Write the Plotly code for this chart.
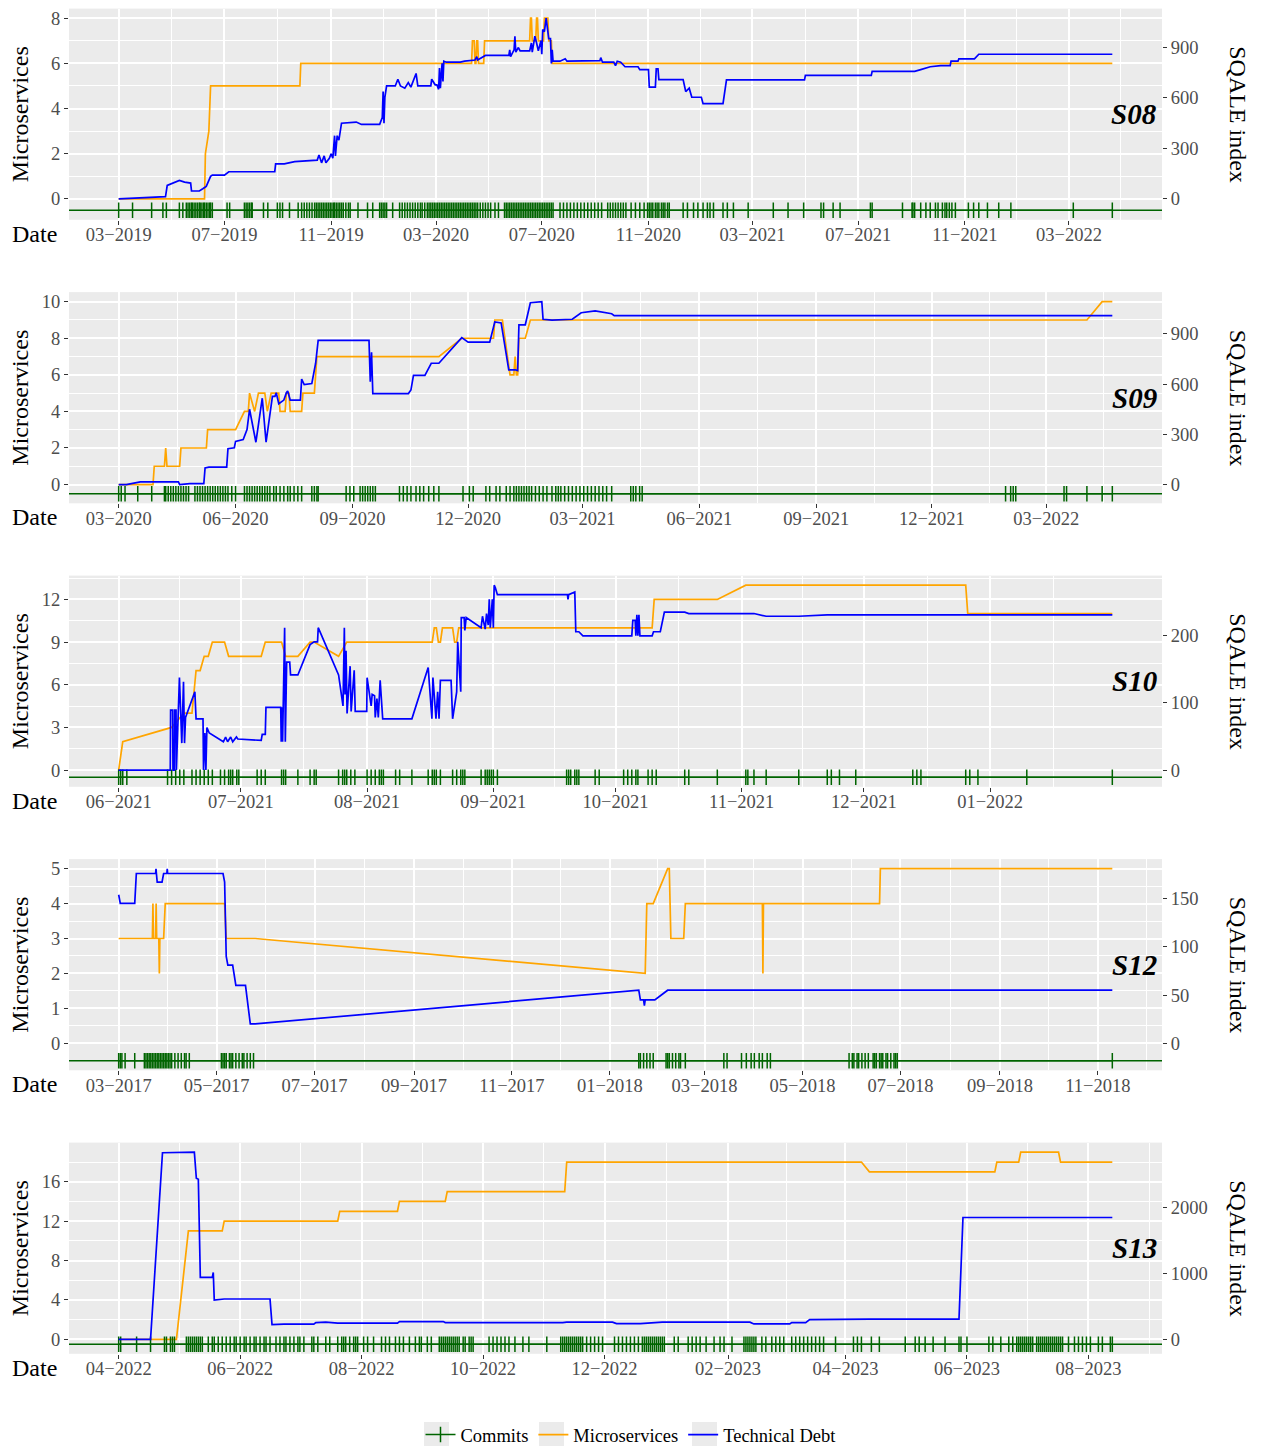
import pandas as pd
import plotly.graph_objects as go

# ---------------------------------------------------------------- data
# (date, number of microservices)
S08_MS = [("2019-03-01", 0), ("2019-06-08", 0), ("2019-06-09", 2), ("2019-06-13", 3), ("2019-06-14", 4),
          ("2019-06-15", 5), ("2019-09-26", 5), ("2019-09-27", 6), ("2020-04-11", 6), ("2020-04-12", 7),
          ("2020-04-14", 7), ("2020-04-15", 6), ("2020-04-16", 6), ("2020-04-17", 7), ("2020-04-18", 7),
          ("2020-04-19", 6), ("2020-04-25", 6), ("2020-04-26", 7), ("2020-06-17", 7), ("2020-06-18", 8),
          ("2020-06-19", 8), ("2020-06-20", 7), ("2020-06-24", 7), ("2020-06-25", 8), ("2020-06-26", 8),
          ("2020-06-27", 7), ("2020-07-03", 7), ("2020-07-04", 8), ("2020-07-08", 8), ("2020-07-09", 7),
          ("2020-07-12", 7), ("2020-07-13", 6), ("2022-04-20", 6)]
# (date, SQALE index)
S08_TD = [("2019-03-01", 0), ("2019-04-11", 9), ("2019-04-20", 13), ("2019-04-24", 13), ("2019-04-26", 80),
          ("2019-05-10", 110), ("2019-05-16", 100), ("2019-05-23", 94), ("2019-05-24", 47), ("2019-06-02", 47),
          ("2019-06-06", 60), ("2019-06-10", 74), ("2019-06-15", 134), ("2019-06-17", 141), ("2019-07-01", 141),
          ("2019-07-06", 161), ("2019-08-28", 161), ("2019-08-29", 208), ("2019-09-08", 208), ("2019-09-20", 221),
          ("2019-10-16", 230), ("2019-10-18", 261), ("2019-10-21", 214), ("2019-10-24", 255), ("2019-10-26", 214),
          ("2019-10-30", 241), ("2019-11-01", 268), ("2019-11-03", 241), ("2019-11-05", 375), ("2019-11-06", 255),
          ("2019-11-08", 375), ("2019-11-10", 348), ("2019-11-13", 449), ("2019-11-30", 456), ("2019-12-06", 442),
          ("2019-12-27", 442), ("2019-12-30", 482), ("2019-12-31", 637), ("2020-01-01", 449), ("2020-01-02", 603),
          ("2020-01-04", 670), ("2020-01-14", 670), ("2020-01-17", 710), ("2020-01-20", 670), ("2020-01-25", 657),
          ("2020-01-29", 690), ("2020-02-01", 663), ("2020-02-07", 744), ("2020-02-09", 670), ("2020-02-24", 670),
          ("2020-02-25", 710), ("2020-02-29", 677), ("2020-03-02", 677), ("2020-03-04", 650), ("2020-03-05", 777),
          ("2020-03-06", 657), ("2020-03-08", 804), ("2020-03-09", 697), ("2020-03-10", 817), ("2020-03-13", 811),
          ("2020-03-29", 811), ("2020-04-03", 817), ("2020-04-15", 824), ("2020-04-17", 844), ("2020-04-18", 824),
          ("2020-04-27", 851), ("2020-05-24", 851), ("2020-05-25", 884), ("2020-05-26", 844), ("2020-05-30", 884),
          ("2020-05-31", 965), ("2020-06-01", 871), ("2020-06-04", 898), ("2020-06-06", 878), ("2020-06-17", 878),
          ("2020-06-19", 925), ("2020-06-20", 871), ("2020-06-23", 965), ("2020-06-25", 925), ("2020-06-27", 878),
          ("2020-06-30", 938), ("2020-07-01", 858), ("2020-07-02", 1005), ("2020-07-04", 992), ("2020-07-06", 1072),
          ("2020-07-08", 978), ("2020-07-09", 951), ("2020-07-11", 951), ("2020-07-12", 804), ("2020-07-13", 884),
          ("2020-07-14", 817), ("2020-07-22", 817), ("2020-07-28", 831), ("2020-07-30", 817), ("2020-09-06", 820),
          ("2020-09-07", 838), ("2020-09-09", 811), ("2020-09-22", 811), ("2020-09-24", 791), ("2020-09-26", 817),
          ("2020-09-30", 811), ("2020-10-05", 784), ("2020-10-20", 784), ("2020-10-22", 767), ("2020-11-01", 767),
          ("2020-11-02", 663), ("2020-11-09", 663), ("2020-11-10", 771), ("2020-11-12", 771), ("2020-11-13", 708),
          ("2020-12-11", 708), ("2020-12-14", 637), ("2020-12-18", 657), ("2020-12-21", 603), ("2021-01-01", 603),
          ("2021-01-03", 565), ("2021-01-26", 565), ("2021-01-30", 706), ("2021-04-30", 706), ("2021-05-01", 733),
          ("2021-07-16", 733), ("2021-07-17", 757), ("2021-09-04", 757), ("2021-09-11", 767), ("2021-09-22", 784),
          ("2021-10-04", 791), ("2021-10-15", 791), ("2021-10-16", 817), ("2021-10-24", 817), ("2021-10-25", 831),
          ("2021-11-12", 831), ("2021-11-17", 858), ("2022-04-20", 858)]
S08_COMMITS = [
    "2019-03-01", "2019-03-17", "2019-04-08", "2019-04-21", "2019-04-25", "2019-05-10", "2019-05-14",
    "2019-05-18", "2019-05-20", "2019-05-22", "2019-05-24", "2019-05-25", "2019-05-27", "2019-05-29",
    "2019-05-31", "2019-06-02", "2019-06-03", "2019-06-05", "2019-06-07", "2019-06-08", "2019-06-10",
    "2019-06-12", "2019-06-14", "2019-06-15", "2019-06-17", "2019-07-04", "2019-07-07", "2019-07-24",
    "2019-07-26", "2019-07-28", "2019-07-30", "2019-08-01", "2019-08-02", "2019-08-15", "2019-08-20",
    "2019-08-31", "2019-09-03", "2019-09-06", "2019-09-14", "2019-09-24", "2019-09-28", "2019-10-01",
    "2019-10-04", "2019-10-07", "2019-10-10", "2019-10-13", "2019-10-15", "2019-10-17", "2019-10-19",
    "2019-10-21", "2019-10-23", "2019-10-25", "2019-10-27", "2019-10-29", "2019-10-31", "2019-11-02",
    "2019-11-04", "2019-11-05", "2019-11-07", "2019-11-09", "2019-11-11", "2019-11-13", "2019-11-15",
    "2019-11-18", "2019-11-21", "2019-11-23", "2019-12-02", "2019-12-13", "2019-12-19", "2019-12-27",
    "2019-12-29", "2019-12-31", "2020-01-02", "2020-01-04", "2020-01-11", "2020-01-19", "2020-01-22",
    "2020-01-25", "2020-01-28", "2020-01-31", "2020-02-03", "2020-02-06", "2020-02-09", "2020-02-12",
    "2020-02-14", "2020-02-17", "2020-02-20", "2020-02-22", "2020-02-24", "2020-02-26", "2020-02-28",
    "2020-03-01", "2020-03-03", "2020-03-05", "2020-03-07", "2020-03-09", "2020-03-11", "2020-03-13",
    "2020-03-15", "2020-03-17", "2020-03-19", "2020-03-21", "2020-03-23", "2020-03-25", "2020-03-27",
    "2020-03-29", "2020-03-31", "2020-04-02", "2020-04-04", "2020-04-06", "2020-04-08", "2020-04-10",
    "2020-04-12", "2020-04-14", "2020-04-16", "2020-04-18", "2020-04-21", "2020-04-24", "2020-04-27",
    "2020-04-30", "2020-05-03", "2020-05-08", "2020-05-12", "2020-05-19", "2020-05-21", "2020-05-23",
    "2020-05-25", "2020-05-27", "2020-05-29", "2020-05-31", "2020-06-02", "2020-06-04", "2020-06-06",
    "2020-06-08", "2020-06-10", "2020-06-12", "2020-06-14", "2020-06-16", "2020-06-18", "2020-06-20",
    "2020-06-22", "2020-06-24", "2020-06-26", "2020-06-28", "2020-06-30", "2020-07-02", "2020-07-04",
    "2020-07-06", "2020-07-08", "2020-07-10", "2020-07-12", "2020-07-14", "2020-07-22", "2020-07-26",
    "2020-07-30", "2020-08-03", "2020-08-07", "2020-08-11", "2020-08-15", "2020-08-19", "2020-08-23",
    "2020-08-27", "2020-08-31", "2020-09-04", "2020-09-08", "2020-09-15", "2020-09-18", "2020-09-21",
    "2020-09-24", "2020-09-27", "2020-09-30", "2020-10-03", "2020-10-06", "2020-10-12", "2020-10-17",
    "2020-10-22", "2020-10-27", "2020-10-31", "2020-11-02", "2020-11-04", "2020-11-06", "2020-11-09",
    "2020-11-11", "2020-11-13", "2020-11-16", "2020-11-18", "2020-11-20", "2020-11-23", "2020-11-25",
    "2020-12-11", "2020-12-16", "2020-12-23", "2020-12-28", "2021-01-03", "2021-01-08", "2021-01-11",
    "2021-01-15", "2021-01-26", "2021-01-31", "2021-02-07", "2021-02-24", "2021-03-25", "2021-04-11",
    "2021-04-29", "2021-05-19", "2021-05-22", "2021-06-02", "2021-06-10", "2021-07-15", "2021-07-17",
    "2021-08-21", "2021-09-01", "2021-09-02", "2021-09-04", "2021-09-11", "2021-09-17", "2021-09-22",
    "2021-09-28", "2021-10-01", "2021-10-06", "2021-10-09", "2021-10-11", "2021-10-14", "2021-10-17",
    "2021-10-21", "2021-11-05", "2021-11-11", "2021-11-17", "2021-11-27", "2021-12-10", "2021-12-24",
    "2022-03-06", "2022-04-20"]

S09_MS = [("2020-03-01", 0), ("2020-03-28", 0), ("2020-03-29", 1), ("2020-04-06", 1), ("2020-04-07", 2),
          ("2020-04-08", 1), ("2020-04-18", 1), ("2020-04-19", 2), ("2020-05-09", 2), ("2020-05-10", 3),
          ("2020-06-01", 3), ("2020-06-08", 4), ("2020-06-11", 4), ("2020-06-12", 5), ("2020-06-16", 4),
          ("2020-06-19", 5), ("2020-06-24", 5), ("2020-06-26", 4), ("2020-06-29", 5), ("2020-07-05", 5),
          ("2020-07-06", 4), ("2020-07-10", 4), ("2020-07-11", 5), ("2020-07-13", 5), ("2020-07-14", 4),
          ("2020-07-23", 4), ("2020-07-24", 5), ("2020-08-02", 5), ("2020-08-03", 6), ("2020-08-04", 7),
          ("2020-11-08", 7), ("2020-11-26", 8), ("2020-12-21", 8), ("2020-12-22", 9), ("2020-12-28", 9),
          ("2021-01-03", 6), ("2021-01-06", 6), ("2021-01-07", 7), ("2021-01-08", 6), ("2021-01-09", 6),
          ("2021-01-10", 8), ("2021-01-15", 8), ("2021-01-19", 9), ("2022-04-02", 9), ("2022-04-14", 10),
          ("2022-04-22", 10)]
S09_TD = [("2020-03-01", 0), ("2020-03-07", 0), ("2020-03-18", 16), ("2020-04-17", 16), ("2020-04-18", 0),
          ("2020-04-26", 5), ("2020-05-07", 5), ("2020-05-08", 99), ("2020-05-11", 104), ("2020-05-25", 104),
          ("2020-05-26", 214), ("2020-05-31", 220), ("2020-06-01", 258), ("2020-06-07", 269), ("2020-06-10", 329),
          ("2020-06-12", 450), ("2020-06-17", 253), ("2020-06-21", 450), ("2020-06-22", 516), ("2020-06-25", 253),
          ("2020-06-30", 527), ("2020-07-02", 527), ("2020-07-03", 549), ("2020-07-05", 483), ("2020-07-09", 505),
          ("2020-07-11", 549), ("2020-07-12", 560), ("2020-07-14", 505), ("2020-07-22", 505), ("2020-07-23", 631),
          ("2020-07-25", 598), ("2020-07-31", 604), ("2020-08-02", 675), ("2020-08-03", 725), ("2020-08-05", 862),
          ("2020-09-14", 862), ("2020-09-15", 615), ("2020-09-16", 791), ("2020-09-17", 544), ("2020-10-15", 544),
          ("2020-10-17", 565), ("2020-10-19", 653), ("2020-10-28", 653), ("2020-11-02", 725), ("2020-11-08", 725),
          ("2020-11-26", 878), ("2020-12-01", 851), ("2020-12-18", 851), ("2020-12-22", 972), ("2020-12-27", 966),
          ("2021-01-02", 686), ("2021-01-07", 686), ("2021-01-09", 681), ("2021-01-10", 955), ("2021-01-15", 955),
          ("2021-01-19", 1087), ("2021-01-28", 1093), ("2021-01-29", 988), ("2021-02-05", 983), ("2021-02-21", 988),
          ("2021-02-28", 1027), ("2021-03-11", 1038), ("2021-03-24", 1021), ("2021-03-26", 1010), ("2022-04-22", 1010)]
S09_COMMITS = [
    "2020-03-01", "2020-03-03", "2020-03-06", "2020-03-16", "2020-03-27", "2020-04-06", "2020-04-07",
    "2020-04-09", "2020-04-11", "2020-04-13", "2020-04-15", "2020-04-17", "2020-04-19", "2020-04-21",
    "2020-04-23", "2020-04-25", "2020-04-30", "2020-05-02", "2020-05-04", "2020-05-06", "2020-05-08",
    "2020-05-10", "2020-05-12", "2020-05-14", "2020-05-16", "2020-05-18", "2020-05-20", "2020-05-22",
    "2020-05-24", "2020-05-26", "2020-05-29", "2020-06-01", "2020-06-08", "2020-06-10", "2020-06-12",
    "2020-06-14", "2020-06-16", "2020-06-18", "2020-06-20", "2020-06-22", "2020-06-24", "2020-06-26",
    "2020-06-28", "2020-07-01", "2020-07-03", "2020-07-06", "2020-07-09", "2020-07-12", "2020-07-14",
    "2020-07-17", "2020-07-20", "2020-07-23", "2020-07-31", "2020-08-02", "2020-08-04", "2020-08-05",
    "2020-08-27", "2020-08-30", "2020-09-02", "2020-09-07", "2020-09-09", "2020-09-11", "2020-09-13",
    "2020-09-15", "2020-09-17", "2020-09-19", "2020-10-08", "2020-10-11", "2020-10-14", "2020-10-17",
    "2020-10-21", "2020-10-24", "2020-10-27", "2020-10-31", "2020-11-04", "2020-11-08", "2020-11-27",
    "2020-12-02", "2020-12-05", "2020-12-15", "2020-12-18", "2020-12-23", "2020-12-26", "2020-12-31",
    "2021-01-03", "2021-01-06", "2021-01-08", "2021-01-10", "2021-01-12", "2021-01-14", "2021-01-16",
    "2021-01-18", "2021-01-20", "2021-01-23", "2021-01-26", "2021-01-29", "2021-02-01", "2021-02-05",
    "2021-02-08", "2021-02-10", "2021-02-12", "2021-02-15", "2021-02-18", "2021-02-21", "2021-02-24",
    "2021-02-27", "2021-03-02", "2021-03-05", "2021-03-08", "2021-03-11", "2021-03-14", "2021-03-17",
    "2021-03-20", "2021-03-24", "2021-04-08", "2021-04-10", "2021-04-12", "2021-04-15", "2021-04-17",
    "2022-01-28", "2022-02-01", "2022-02-03", "2022-02-05", "2022-03-15", "2022-03-17", "2022-04-02",
    "2022-04-14", "2022-04-22"]

S10_MS = [("2021-06-01", 0), ("2021-06-02", 2), ("2021-06-14", 3), ("2021-06-17", 4), ("2021-06-19", 4),
          ("2021-06-20", 7), ("2021-06-21", 7), ("2021-06-22", 8), ("2021-06-23", 8), ("2021-06-24", 9),
          ("2021-06-27", 9), ("2021-06-28", 8), ("2021-07-06", 8), ("2021-07-07", 9), ("2021-07-11", 9),
          ("2021-07-12", 8), ("2021-07-15", 8), ("2021-07-18", 9), ("2021-07-19", 9), ("2021-07-25", 8),
          ("2021-07-27", 9), ("2021-08-17", 9), ("2021-08-17 12:00", 10), ("2021-08-18", 10),
          ("2021-08-18 12:00", 9), ("2021-08-19", 9), ("2021-08-19 12:00", 10), ("2021-08-22", 10),
          ("2021-08-22 12:00", 9), ("2021-08-23", 9), ("2021-08-23 12:00", 10), ("2021-10-10", 10),
          ("2021-10-10 12:00", 12), ("2021-10-26", 12), ("2021-11-02", 13), ("2021-12-26", 13),
          ("2021-12-26 12:00", 11), ("2022-01-31", 11)]
S10_TD = [("2021-06-01", 0), ("2021-06-13 16:00", 0), ("2021-06-13 18:00", 89), ("2021-06-14 06:00", 89),
          ("2021-06-14 08:00", 0), ("2021-06-14 16:00", 0), ("2021-06-14 18:00", 89), ("2021-06-15 02:00", 89),
          ("2021-06-15 04:00", 0), ("2021-06-15 22:00", 137), ("2021-06-16 12:00", 40), ("2021-06-16 22:00", 131),
          ("2021-06-17 04:00", 40), ("2021-06-17 10:00", 78), ("2021-06-19 17:00", 116), ("2021-06-20 00:00", 76),
          ("2021-06-21 17:00", 76), ("2021-06-21 20:00", 0), ("2021-06-22 04:00", 55), ("2021-06-22 10:00", 0),
          ("2021-06-22 16:00", 63), ("2021-06-23 06:00", 55), ("2021-06-26 17:00", 42), ("2021-06-27 06:00", 49),
          ("2021-06-27 18:00", 42), ("2021-06-28 12:00", 49), ("2021-06-29 00:00", 42), ("2021-06-29 22:00", 49),
          ("2021-06-30 06:00", 46), ("2021-07-06", 44), ("2021-07-06 06:00", 53), ("2021-07-07", 53),
          ("2021-07-07 04:00", 93), ("2021-07-10 19:00", 93), ("2021-07-10 22:00", 42), ("2021-07-11 02:00", 93),
          ("2021-07-11 06:00", 42), ("2021-07-11 18:00", 211), ("2021-07-11 22:00", 42), ("2021-07-12 06:00", 160),
          ("2021-07-13", 160), ("2021-07-13 05:00", 141), ("2021-07-15", 141), ("2021-07-18", 186),
          ("2021-07-19", 190), ("2021-07-19 20:00", 190), ("2021-07-20", 211), ("2021-07-25", 141),
          ("2021-07-26 02:00", 95), ("2021-07-26 10:00", 211), ("2021-07-26 14:00", 112), ("2021-07-26 20:00", 177),
          ("2021-07-27 02:00", 84), ("2021-07-27 08:00", 112), ("2021-07-27 20:00", 154), ("2021-07-28 02:00", 87),
          ("2021-07-28 20:00", 148), ("2021-07-29 02:00", 87), ("2021-07-31 22:00", 87), ("2021-08-01", 137),
          ("2021-08-02", 95), ("2021-08-02 06:00", 112), ("2021-08-02 20:00", 110), ("2021-08-03", 78),
          ("2021-08-03 10:00", 106), ("2021-08-03 18:00", 78), ("2021-08-04 05:00", 133), ("2021-08-04 20:00", 76),
          ("2021-08-12", 76), ("2021-08-16", 152), ("2021-08-16 22:00", 76), ("2021-08-17 04:00", 137),
          ("2021-08-17 22:00", 76), ("2021-08-18 08:00", 116), ("2021-08-18 16:00", 76), ("2021-08-19", 133),
          ("2021-08-21 15:00", 133), ("2021-08-22", 76), ("2021-08-23", 116), ("2021-08-23 06:00", 190),
          ("2021-08-24", 116), ("2021-08-24 03:00", 226), ("2021-08-24 20:00", 226), ("2021-08-25", 207),
          ("2021-08-25 08:00", 226), ("2021-08-29", 211), ("2021-08-29 08:00", 228), ("2021-08-30", 209),
          ("2021-08-30 08:00", 232), ("2021-08-30 18:00", 215), ("2021-08-31", 253), ("2021-08-31 06:00", 211),
          ("2021-08-31 18:00", 253), ("2021-09-01", 211), ("2021-09-01 05:00", 274), ("2021-09-01 12:00", 270),
          ("2021-09-02", 260), ("2021-09-19 05:00", 260), ("2021-09-19 08:00", 253), ("2021-09-19 12:00", 260),
          ("2021-09-21", 264), ("2021-09-21 06:00", 205), ("2021-09-22", 205), ("2021-09-23", 199),
          ("2021-10-05", 199), ("2021-10-05 06:00", 222), ("2021-10-05 20:00", 222), ("2021-10-06", 199),
          ("2021-10-06 06:00", 230), ("2021-10-06 12:00", 199), ("2021-10-06 18:00", 230), ("2021-10-07", 199),
          ("2021-10-10", 199), ("2021-10-10 08:00", 205), ("2021-10-12", 205), ("2021-10-13", 234),
          ("2021-10-18", 234), ("2021-10-19", 232), ("2021-11-04", 232), ("2021-11-07", 228),
          ("2021-11-15", 228), ("2021-11-22", 230), ("2022-01-31", 230)]
S10_COMMITS = [
    "2021-06-01", "2021-06-01 12:00", "2021-06-02", "2021-06-03", "2021-06-13", "2021-06-14", "2021-06-15",
    "2021-06-16", "2021-06-17", "2021-06-19", "2021-06-20", "2021-06-21", "2021-06-22", "2021-06-23",
    "2021-06-24", "2021-06-26", "2021-06-27", "2021-06-28", "2021-06-28 12:00", "2021-06-29", "2021-06-30",
    "2021-06-30 12:00", "2021-07-05", "2021-07-06", "2021-07-07", "2021-07-11", "2021-07-11 12:00",
    "2021-07-12", "2021-07-15", "2021-07-18", "2021-07-19", "2021-07-19 12:00", "2021-07-25", "2021-07-26",
    "2021-07-26 12:00", "2021-07-27", "2021-07-28", "2021-07-29", "2021-08-01", "2021-08-02", "2021-08-03",
    "2021-08-04", "2021-08-04 12:00", "2021-08-05", "2021-08-08", "2021-08-09", "2021-08-12", "2021-08-16",
    "2021-08-17", "2021-08-17 12:00", "2021-08-18", "2021-08-19", "2021-08-22", "2021-08-23", "2021-08-24",
    "2021-08-24 12:00", "2021-08-25", "2021-08-29", "2021-08-30", "2021-08-30 12:00", "2021-08-31",
    "2021-08-31 12:00", "2021-09-01", "2021-09-02", "2021-09-19", "2021-09-19 12:00", "2021-09-20",
    "2021-09-21", "2021-09-21 12:00", "2021-09-22", "2021-09-26", "2021-09-27", "2021-10-03", "2021-10-04",
    "2021-10-05", "2021-10-06", "2021-10-06 12:00", "2021-10-09", "2021-10-10", "2021-10-11", "2021-10-18",
    "2021-10-19", "2021-10-26", "2021-11-02", "2021-11-02 12:00", "2021-11-04", "2021-11-07", "2021-11-15",
    "2021-11-22", "2021-11-23", "2021-11-25", "2021-11-29", "2021-12-13", "2021-12-14", "2021-12-15",
    "2021-12-26", "2021-12-27", "2021-12-29", "2022-01-10", "2022-01-31"]

S12_MS = [("2017-03-01", 3), ("2017-03-22", 3), ("2017-03-22 08:00", 4), ("2017-03-22 16:00", 3),
          ("2017-03-24", 3), ("2017-03-24 08:00", 4), ("2017-03-24 16:00", 3), ("2017-03-26", 3),
          ("2017-03-26 08:00", 2), ("2017-03-26 16:00", 3), ("2017-03-29", 3), ("2017-03-30", 4),
          ("2017-05-06", 4), ("2017-05-07", 3), ("2017-05-25", 3), ("2018-01-23", 2), ("2018-01-24", 4),
          ("2018-01-28", 4), ("2018-02-06", 5), ("2018-02-07", 5), ("2018-02-08", 3), ("2018-02-16", 3),
          ("2018-02-17", 4), ("2018-04-06", 4), ("2018-04-06 08:00", 2), ("2018-04-06 16:00", 4),
          ("2018-06-18", 4), ("2018-06-18 12:00", 5), ("2018-11-10", 5)]
S12_TD = [("2017-03-01", 154), ("2017-03-02", 145), ("2017-03-11", 145), ("2017-03-12", 176), ("2017-03-24", 176),
          ("2017-03-24 06:00", 181), ("2017-03-24 12:00", 176), ("2017-03-25", 167), ("2017-03-28", 167),
          ("2017-03-29", 176), ("2017-03-31", 176), ("2017-03-31 06:00", 181), ("2017-03-31 12:00", 176),
          ("2017-05-05", 176), ("2017-05-06", 167), ("2017-05-07", 90), ("2017-05-08", 81), ("2017-05-11", 81),
          ("2017-05-13", 60), ("2017-05-19", 60), ("2017-05-22", 20), ("2017-05-25", 20), ("2018-01-19", 55),
          ("2018-01-20", 45), ("2018-01-22", 45), ("2018-01-22 12:00", 39), ("2018-01-23", 45), ("2018-01-29", 45),
          ("2018-02-06", 55), ("2018-11-10", 55)]
S12_COMMITS = [
    "2017-03-01", "2017-03-02", "2017-03-03", "2017-03-05", "2017-03-11", "2017-03-17", "2017-03-18",
    "2017-03-19", "2017-03-20", "2017-03-21", "2017-03-22", "2017-03-23", "2017-03-24", "2017-03-25",
    "2017-03-26", "2017-03-27", "2017-03-28", "2017-03-29", "2017-03-30", "2017-03-31", "2017-04-01",
    "2017-04-02", "2017-04-03", "2017-04-05", "2017-04-07", "2017-04-09", "2017-04-11", "2017-04-12",
    "2017-04-14", "2017-05-04", "2017-05-05", "2017-05-06", "2017-05-07", "2017-05-09", "2017-05-10",
    "2017-05-11", "2017-05-13", "2017-05-15", "2017-05-17", "2017-05-18", "2017-05-20", "2017-05-22",
    "2017-05-24", "2018-01-19", "2018-01-20", "2018-01-22", "2018-01-24", "2018-01-26", "2018-01-28",
    "2018-02-05", "2018-02-06", "2018-02-07", "2018-02-09", "2018-02-11", "2018-02-13", "2018-02-14",
    "2018-02-17", "2018-03-13", "2018-03-15", "2018-03-24", "2018-03-27", "2018-03-30", "2018-04-01",
    "2018-04-04", "2018-04-06", "2018-04-09", "2018-04-11", "2018-05-30", "2018-06-01", "2018-06-02",
    "2018-06-04", "2018-06-05", "2018-06-07", "2018-06-09", "2018-06-11", "2018-06-14", "2018-06-15",
    "2018-06-16", "2018-06-18", "2018-06-19", "2018-06-20", "2018-06-22", "2018-06-23", "2018-06-25",
    "2018-06-27", "2018-06-28", "2018-06-29", "2018-11-10"]

S13_MS = [("2022-04-01", 0), ("2022-04-30", 0), ("2022-05-06", 11), ("2022-05-23", 11), ("2022-05-24", 12),
          ("2022-07-20", 12), ("2022-07-21", 13), ("2022-08-19", 13), ("2022-08-20", 14), ("2022-09-12", 14),
          ("2022-09-13", 15), ("2022-11-11", 15), ("2022-11-12", 18), ("2023-04-09", 18), ("2023-04-13", 17),
          ("2023-06-15", 17), ("2023-06-16", 18), ("2023-06-27", 18), ("2023-06-28", 19), ("2023-07-17", 19),
          ("2023-07-18", 18), ("2023-08-13", 18)]
S13_TD = [("2022-04-01", 0), ("2022-04-17", 0), ("2022-04-23", 2825), ("2022-05-07", 2825), ("2022-05-09", 2833),
          ("2022-05-10", 2439), ("2022-05-11", 2424), ("2022-05-12", 937), ("2022-05-18", 937),
          ("2022-05-18 12:00", 1011), ("2022-05-19", 595), ("2022-05-24", 610), ("2022-06-16", 610),
          ("2022-06-17", 223), ("2022-06-23", 230), ("2022-07-08", 230), ("2022-07-09", 253), ("2022-07-14", 260),
          ("2022-07-20", 245), ("2022-08-19", 245), ("2022-08-20", 268), ("2022-09-11", 268), ("2022-09-12", 253),
          ("2022-11-10", 253), ("2022-11-12", 260), ("2022-12-05", 260), ("2022-12-07", 238), ("2022-12-19", 238),
          ("2022-12-30", 260), ("2023-02-12", 260), ("2023-02-14", 232), ("2023-03-04", 232), ("2023-03-05", 253),
          ("2023-03-12", 253), ("2023-03-14", 297), ("2023-04-13", 305), ("2023-05-28", 305), ("2023-05-30", 1844),
          ("2023-06-27", 1844), ("2023-06-28", 1851), ("2023-07-17", 1851), ("2023-07-18", 1844),
          ("2023-08-13", 1844)]
S13_COMMITS = [
    "2022-04-01", "2022-04-02", "2022-04-10", "2022-04-17", "2022-04-24", "2022-04-25", "2022-04-27",
    "2022-04-28", "2022-04-29", "2022-05-05", "2022-05-06", "2022-05-07", "2022-05-08", "2022-05-09",
    "2022-05-10", "2022-05-11", "2022-05-12", "2022-05-13", "2022-05-16", "2022-05-18", "2022-05-19",
    "2022-05-21", "2022-05-23", "2022-05-25", "2022-05-27", "2022-05-29", "2022-05-30", "2022-06-01",
    "2022-06-03", "2022-06-04", "2022-06-06", "2022-06-08", "2022-06-09", "2022-06-11", "2022-06-13",
    "2022-06-14", "2022-06-16", "2022-06-19", "2022-06-21", "2022-06-23", "2022-06-24", "2022-06-26",
    "2022-06-28", "2022-06-30", "2022-07-01", "2022-07-03", "2022-07-07", "2022-07-08", "2022-07-10",
    "2022-07-14", "2022-07-16", "2022-07-20", "2022-07-22", "2022-07-23", "2022-07-24", "2022-07-26",
    "2022-07-28", "2022-07-29", "2022-07-30", "2022-08-02", "2022-08-04", "2022-08-07", "2022-08-11",
    "2022-08-13", "2022-08-15", "2022-08-18", "2022-08-20", "2022-08-22", "2022-08-25", "2022-08-28",
    "2022-08-30", "2022-08-31", "2022-09-03", "2022-09-05", "2022-09-09", "2022-09-10", "2022-09-11",
    "2022-09-12", "2022-09-13", "2022-09-14", "2022-09-15", "2022-09-16", "2022-09-17", "2022-09-18",
    "2022-09-19", "2022-09-21", "2022-09-22", "2022-09-24", "2022-09-25", "2022-09-26", "2022-10-04",
    "2022-10-06", "2022-10-08", "2022-10-10", "2022-10-12", "2022-10-14", "2022-10-17", "2022-10-21",
    "2022-10-24", "2022-11-02", "2022-11-09", "2022-11-10", "2022-11-11", "2022-11-12", "2022-11-13",
    "2022-11-14", "2022-11-15", "2022-11-16", "2022-11-17", "2022-11-18", "2022-11-19", "2022-11-20",
    "2022-11-22", "2022-11-24", "2022-11-26", "2022-11-28", "2022-11-30", "2022-12-06", "2022-12-08",
    "2022-12-10", "2022-12-12", "2022-12-14", "2022-12-16", "2022-12-18", "2022-12-20", "2022-12-21",
    "2022-12-22", "2022-12-23", "2022-12-24", "2022-12-25", "2022-12-26", "2022-12-27", "2022-12-28",
    "2022-12-29", "2022-12-30", "2022-12-31", "2023-01-05", "2023-01-07", "2023-01-12", "2023-01-14",
    "2023-01-16", "2023-01-18", "2023-01-21", "2023-01-25", "2023-01-28", "2023-01-30", "2023-02-03",
    "2023-02-09", "2023-02-10", "2023-02-11", "2023-02-12", "2023-02-13", "2023-02-14", "2023-02-15",
    "2023-02-18", "2023-02-20", "2023-02-23", "2023-02-25", "2023-02-27", "2023-03-01", "2023-03-05",
    "2023-03-07", "2023-03-09", "2023-03-11", "2023-03-13", "2023-03-15", "2023-03-17", "2023-03-19",
    "2023-03-21", "2023-03-27", "2023-04-05", "2023-04-07", "2023-04-09", "2023-04-14", "2023-04-18",
    "2023-05-01", "2023-05-06", "2023-05-08", "2023-05-11", "2023-05-15", "2023-05-21", "2023-05-28",
    "2023-05-29", "2023-06-01", "2023-06-12", "2023-06-14", "2023-06-18", "2023-06-22", "2023-06-24",
    "2023-06-26", "2023-06-27", "2023-06-28", "2023-06-29", "2023-06-30", "2023-07-01", "2023-07-02",
    "2023-07-03", "2023-07-04", "2023-07-06", "2023-07-07", "2023-07-08", "2023-07-09", "2023-07-10",
    "2023-07-11", "2023-07-12", "2023-07-13", "2023-07-14", "2023-07-15", "2023-07-16", "2023-07-17",
    "2023-07-18", "2023-07-19", "2023-07-22", "2023-07-25", "2023-07-27", "2023-07-29", "2023-07-31",
    "2023-08-02", "2023-08-06", "2023-08-08", "2023-08-12", "2023-08-13"]

SYSTEMS = ["S08", "S09", "S10", "S12", "S13"]

# date axis breaks
S08_XTICKS = ["2019-03-01", "2019-07-01", "2019-11-01", "2020-03-01", "2020-07-01", "2020-11-01",
              "2021-03-01", "2021-07-01", "2021-11-01", "2022-03-01"]
S09_XTICKS = ["2020-03-01", "2020-06-01", "2020-09-01", "2020-12-01", "2021-03-01", "2021-06-01",
              "2021-09-01", "2021-12-01", "2022-03-01"]
S10_XTICKS = ["2021-06-01", "2021-07-01", "2021-08-01", "2021-09-01", "2021-10-01", "2021-11-01",
              "2021-12-01", "2022-01-01"]
S12_XTICKS = ["2017-03-01", "2017-05-01", "2017-07-01", "2017-09-01", "2017-11-01", "2018-01-01",
              "2018-03-01", "2018-05-01", "2018-07-01", "2018-09-01", "2018-11-01"]
S13_XTICKS = ["2022-04-01", "2022-06-01", "2022-08-01", "2022-10-01", "2022-12-01", "2023-02-01",
              "2023-04-01", "2023-06-01", "2023-08-01"]

# left (microservices) and right (SQALE index) breaks
S08_YTICKS, S08_YMINOR, S08_Y2TICKS = [0, 2, 4, 6, 8], [1, 3, 5, 7], [0, 300, 600, 900]
S09_YTICKS, S09_YMINOR, S09_Y2TICKS = [0, 2, 4, 6, 8, 10], [-1, 1, 3, 5, 7, 9], [0, 300, 600, 900]
S10_YTICKS, S10_YMINOR, S10_Y2TICKS = [0, 3, 6, 9, 12], [-1.5, 1.5, 4.5, 7.5, 10.5, 13.5], [0, 100, 200]
S12_YTICKS, S12_YMINOR, S12_Y2TICKS = [0, 1, 2, 3, 4, 5], [-0.5, 0.5, 1.5, 2.5, 3.5, 4.5], [0, 50, 100, 150]
S13_YTICKS, S13_YMINOR, S13_Y2TICKS = [0, 4, 8, 12, 16], [-2, 2, 6, 10, 14, 18], [0, 1000, 2000]

COMMIT_LEVEL = -0.5

# ---------------------------------------------------------------- style
FONT = "Liberation Serif"
W, H = 1262, 1448
PLOT_LEFT, PLOT_RIGHT = 69, 1162
PANEL_TOP0, PANEL_STEP, PANEL_H = 8.6, 283.5, 211.2
ORANGE, BLUE, GREEN = "#FFA500", "#0000FF", "#006400"
TICK_FONT = dict(family=FONT, size=18.5, color="#4D4D4D")
TITLE_FONT = dict(family=FONT, size=24, color="black")

panels = [
    (SYSTEMS[0], S08_MS, S08_TD, S08_COMMITS, S08_XTICKS, S08_YTICKS, S08_YMINOR, S08_Y2TICKS),
    (SYSTEMS[1], S09_MS, S09_TD, S09_COMMITS, S09_XTICKS, S09_YTICKS, S09_YMINOR, S09_Y2TICKS),
    (SYSTEMS[2], S10_MS, S10_TD, S10_COMMITS, S10_XTICKS, S10_YTICKS, S10_YMINOR, S10_Y2TICKS),
    (SYSTEMS[3], S12_MS, S12_TD, S12_COMMITS, S12_XTICKS, S12_YTICKS, S12_YMINOR, S12_Y2TICKS),
    (SYSTEMS[4], S13_MS, S13_TD, S13_COMMITS, S13_XTICKS, S13_YTICKS, S13_YMINOR, S13_Y2TICKS),
]


def to_dt(values):
    return pd.to_datetime(pd.Series(values), format="ISO8601")


def axis_ref(letter, idx):
    return letter if idx == 1 else f"{letter}{idx}"


def axis_key(letter, idx):
    return f"{letter}axis" if idx == 1 else f"{letter}axis{idx}"


fig = go.Figure()
layout = {}
annotations, shapes = [], []

for i, (label, ms, td, commits, xticks, yticks, yminor, y2ticks) in enumerate(panels):
    n = i + 1
    xr = axis_ref("x", n)
    yl, yr = axis_ref("y", 2 * n - 1), axis_ref("y", 2 * n)

    ms_d, ms_v = [d for d, _ in ms], [v for _, v in ms]
    td_d, td_v = [d for d, _ in td], [v for _, v in td]

    # secondary axis scale: largest debt maps onto largest microservice count
    k = max(td_v) / max(ms_v)

    all_dates = pd.concat([to_dt(ms_d), to_dt(td_d), to_dt(commits)])
    d0, d1 = all_dates.min(), all_dates.max()
    span = d1 - d0
    xrange = [d0 - 0.05 * span, d1 + 0.05 * span]

    lo, hi = COMMIT_LEVEL, max(ms_v)
    yrange = [lo - 0.05 * (hi - lo), hi + 0.05 * (hi - lo)]

    tk = to_dt(xticks)
    mids = [tk.iloc[j] + (tk.iloc[j + 1] - tk.iloc[j]) / 2 for j in range(len(tk) - 1)]
    mids = [tk.iloc[0] - (tk.iloc[1] - tk.iloc[0]) / 2] + mids + [tk.iloc[-1] + (tk.iloc[-1] - tk.iloc[-2]) / 2]
    ticktext = [t.strftime("%m\u2212%Y") for t in tk]

    top = PANEL_TOP0 + i * PANEL_STEP
    bottom = top + PANEL_H
    ydom = [1 - bottom / H, 1 - top / H]

    fig.add_trace(go.Scatter(x=ms_d, y=ms_v, xaxis=xr, yaxis=yl, mode="lines",
                             line=dict(color=ORANGE, width=1.7), name="Microservices",
                             legendgroup="ms", showlegend=(n == 1), legendrank=2, hoverinfo="skip"))
    fig.add_trace(go.Scatter(x=td_d, y=td_v, xaxis=xr, yaxis=yr, mode="lines",
                             line=dict(color=BLUE, width=1.7), name="Technical Debt",
                             legendgroup="td", showlegend=(n == 1), legendrank=3, hoverinfo="skip"))
    fig.add_trace(go.Scatter(x=commits, y=[COMMIT_LEVEL] * len(commits), xaxis=xr, yaxis=yl,
                             mode="lines+markers", line=dict(color=GREEN, width=1.5),
                             marker=dict(symbol="line-ns", size=11, color=GREEN,
                                         line=dict(color=GREEN, width=1.5)),
                             name="Commits", legendgroup="commits", showlegend=(n == 1),
                             legendrank=1, hoverinfo="skip"))

    common = dict(ticks="outside", ticklen=4, tickwidth=1, tickcolor="#333333",
                  tickfont=TICK_FONT, zeroline=False, showline=False, automargin=False,
                  fixedrange=True)
    layout[axis_key("x", n)] = dict(
        domain=[PLOT_LEFT / W, PLOT_RIGHT / W], anchor=yl, type="date", range=xrange,
        tickmode="array", tickvals=list(tk), ticktext=ticktext, ticklabelstandoff=-6,
        showgrid=True, gridcolor="white", gridwidth=1.7,
        minor=dict(tickmode="array", tickvals=mids, showgrid=True, gridcolor="white",
                   gridwidth=0.85, ticks=""),
        **common)
    layout[axis_key("y", 2 * n - 1)] = dict(
        domain=ydom, anchor=xr, range=yrange, tickmode="array", tickvals=yticks,
        ticktext=[f"{v:g}" for v in yticks], showgrid=True, gridcolor="white", gridwidth=1.7,
        minor=dict(tickmode="array", tickvals=yminor, showgrid=True, gridcolor="white",
                   gridwidth=0.85, ticks=""),
        **common)
    layout[axis_key("y", 2 * n)] = dict(
        overlaying=yl, side="right", anchor=xr, range=[yrange[0] * k, yrange[1] * k],
        tickmode="array", tickvals=y2ticks, ticktext=[f"{v:g}" for v in y2ticks],
        showgrid=False, **common)

    # commit baseline across the whole panel
    shapes.append(dict(type="line", xref=f"{xr} domain", x0=0, x1=1, yref=yl,
                       y0=COMMIT_LEVEL, y1=COMMIT_LEVEL, line=dict(color=GREEN, width=1.5),
                       layer="above"))

    mid = 1 - (top + bottom) / 2 / H
    annotations += [
        dict(text="Microservices", xref="paper", yref="paper", x=20 / W, y=mid, textangle=-90,
             showarrow=False, font=TITLE_FONT, xanchor="center", yanchor="middle"),
        dict(text="SQALE index", xref="paper", yref="paper", x=1238 / W, y=mid, textangle=90,
             showarrow=False, font=TITLE_FONT, xanchor="center", yanchor="middle"),
        dict(text="Date", xref="paper", yref="paper", x=10 / W, y=1 - (bottom + 14) / H,
             showarrow=False, font=TITLE_FONT, xanchor="left", yanchor="middle"),
        dict(text=f"<b><i>{label}</i></b>", xref=f"{xr} domain", yref=f"{yl} domain",
             x=0.997, y=0.5, showarrow=False, xanchor="right", yanchor="middle",
             font=dict(family=FONT, size=29, color="black")),
    ]

# grey key backgrounds behind the legend symbols
for x0 in (424, 539, 692):
    shapes.append(dict(type="rect", xref="paper", yref="paper", x0=x0 / W, x1=(x0 + 25) / W,
                       y0=1 - 1446 / H, y1=1 - 1422 / H, fillcolor="#EBEBEB", line=dict(width=0),
                       layer="below"))

fig.update_layout(
    width=W, height=H, margin=dict(l=0, r=0, t=0, b=0, autoexpand=False),
    paper_bgcolor="white", plot_bgcolor="#EBEBEB",
    font=dict(family=FONT, color="black"),
    showlegend=True,
    legend=dict(orientation="h", x=0.5, xanchor="center", y=1 - 1416 / H, yanchor="top",
                font=dict(family=FONT, size=18.5, color="black"), bgcolor="rgba(0,0,0,0)",
                itemwidth=30, traceorder="normal"),
    annotations=annotations, shapes=shapes, hovermode=False,
    **layout,
)

fig.write_html("out.html")
